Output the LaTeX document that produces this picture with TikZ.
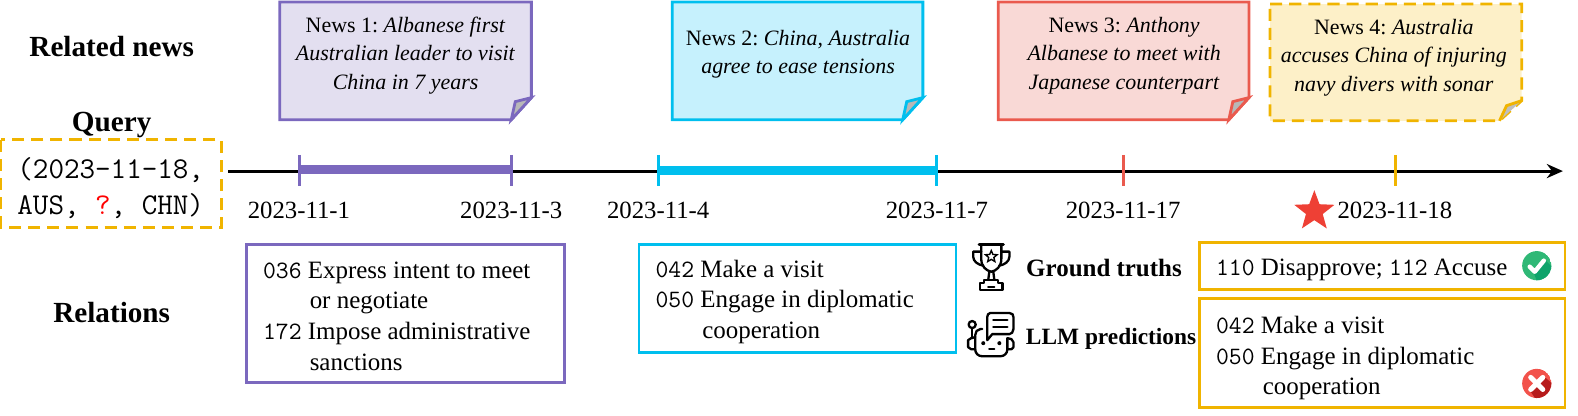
\documentclass[tikz,border=0pt]{standalone}
\usepackage{fontspec}
\setmainfont{Liberation Serif}
\usetikzlibrary{arrows.meta,shapes.geometric}
\definecolor{cpurple}{HTML}{7B68BE}
\definecolor{lpurple}{HTML}{E3DFF0}
\definecolor{ccyan}{HTML}{00BFEE}
\definecolor{lcyan}{HTML}{C6F1FD}
\definecolor{cred}{HTML}{EA5A4E}
\definecolor{lred}{HTML}{F9D9D6}
\definecolor{cgold}{HTML}{F0B400}
\definecolor{lgold}{HTML}{FDF0C8}
\definecolor{cstar}{HTML}{EE4035}
\definecolor{cgreen}{HTML}{2FB876}
\definecolor{dgreen}{HTML}{0FA36B}
\definecolor{cwrong}{HTML}{F2524B}
\definecolor{dwrong}{HTML}{B71C1C}
\newcommand{\relcode}[1]{{\ttfamily\fontsize{12.4}{15}\selectfont #1}}
\newcommand{\relgap}{\hspace*{23.2pt}}
\tikzset{
  title/.style={font=\fontsize{14.5}{17}\selectfont\bfseries, inner sep=0pt},
  side/.style={font=\fontsize{12.4}{15}\selectfont\bfseries, inner sep=0pt},
  news/.style={font=\fontsize{10.9}{14.2}\selectfont\frenchspacing, align=center, inner sep=0pt},
  date/.style={font=\fontsize{12.3}{15}\selectfont, inner sep=0pt},
  rel/.style={font=\fontsize{12.4}{15.2}\selectfont, align=left, anchor=west, inner sep=0pt},
  paper/.style={line width=1.4pt, line join=miter},
  fold/.style={line width=1.4pt, fill=black!28},
  tick/.style={line width=1.5pt},
  icon/.style={line width=1.15pt, line join=round, line cap=round},
}
\begin{document}
\begin{tikzpicture}[x=0.5pt, y=-0.5pt]
\useasboundingbox (0,0) rectangle (1568,413);
% left column
\node[title] (L1) at (111,46) {Related news};
\node[title] (L2) at (111,124) {Query};
\node[title] (L3) at (111,311) {Relations};
\draw[cgold, line width=1.4pt, dashed, dash pattern=on 6pt off 3.5pt] (1,139) rectangle (220,226);
\node[font=\ttfamily\fontsize{15}{17.5}\selectfont, align=center, inner sep=0pt] (Q) at (110,187)
  {(2023-11-18,\\AUS, \textcolor{red}{?}, CHN)};
% news papers
\draw[paper, cpurple, fill=lpurple] (278,2) -- (528,2) -- (528,97) -- (508,119) -- (278,119) -- cycle;
\draw[fold, draw=cpurple] (528,97) -- (512,101) -- (508,119) -- cycle;
\node[news] (N1) at (403,55) {News 1: \textit{Albanese first}\\\textit{Australian leader to visit}\\\textit{China in 7 years}};
\draw[paper, ccyan, fill=lcyan] (668,2) -- (917,2) -- (917,97) -- (897,119) -- (668,119) -- cycle;
\draw[fold, draw=ccyan] (917,97) -- (901,101) -- (897,119) -- cycle;
\node[news] (N2) at (793,54) {News 2: \textit{China, Australia}\\\textit{agree to ease tensions}};
\draw[paper, cred, fill=lred] (992,2) -- (1241,2) -- (1241,97) -- (1221,119) -- (992,119) -- cycle;
\draw[fold, draw=cred] (1241,97) -- (1225,101) -- (1221,119) -- cycle;
\node[news] (N3) at (1117,55) {News 3: \textit{Anthony}\\\textit{Albanese to meet with}\\\textit{Japanese counterpart}};
\fill[lgold] (1262,4) -- (1512,4) -- (1512,100) -- (1490,120) -- (1262,120) -- cycle;
\draw[paper, cgold, dashed, dash pattern=on 6pt off 3.5pt] (1262,4) -- (1512,4) -- (1512,100) -- (1490,120) -- (1262,120) -- cycle;
\fill[black!25] (1512,100) -- (1497,105) -- (1490,120) -- cycle;
\draw[line width=1.4pt, cgold] (1512,100) -- (1497,105) -- (1490,120);
\node[news] (N4) at (1385,57) {News 4: \textit{Australia}\\\textit{accuses China of injuring}\\\textit{navy divers with sonar}};
% timeline
\coordinate (S) at (227,170);
\coordinate (E) at (1553,170);
\draw[line width=1.5pt, -{Stealth[length=8pt,width=7pt]}] (S) -- (E);
\coordinate (T1) at (298,168);
\coordinate (T2) at (508,168);
\coordinate (T3) at (654,169);
\coordinate (T4) at (931,169);
\draw[cpurple, line width=4.5pt] (T1) -- (T2);
\draw[ccyan, line width=4.5pt] (T3) -- (T4);
\draw[tick, cpurple] (298,154) -- (298,185);
\draw[tick, cpurple] (508,154) -- (508,185);
\draw[tick, ccyan] (654,154) -- (654,185);
\draw[tick, ccyan] (931,154) -- (931,185);
\draw[tick, cred] (1116,154) -- (1116,185);
\draw[tick, cgold] (1387,154) -- (1387,185);
\node[date] (D1) at (297,209) {2023-11-1};
\node[date] (D2) at (508,209) {2023-11-3};
\node[date] (D3) at (654,209) {2023-11-4};
\node[date] (D4) at (931,209) {2023-11-7};
\node[date] (D5) at (1116,209) {2023-11-17};
\node[date] (D6) at (1386,209) {2023-11-18};
\node[star, star points=5, star point ratio=2.4, fill=cstar, inner sep=0pt, minimum size=21pt] (ST) at (1306,210) {};
% relations
\draw[cpurple, line width=1.4pt] (245,243) rectangle (561,380);
\node[rel] (R1) at (261,314) {\relcode{036} Express intent to meet\\\relgap or negotiate\\\relcode{172} Impose administrative\\\relgap sanctions};
\draw[ccyan, line width=1.4pt] (635,243) rectangle (950,350);
\node[rel] (R2) at (651,300) {\relcode{042} Make a visit\\\relcode{050} Engage in diplomatic\\\relgap cooperation};
\draw[cgold, line width=1.4pt] (1192,241) rectangle (1555,288);
\node[rel] (R3) at (1208,268) {\relcode{110} Disapprove; \relcode{112} Accuse};
\draw[cgold, line width=1.4pt] (1192,297) rectangle (1555,405);
\node[rel] (R4) at (1208,356) {\relcode{042} Make a visit\\\relcode{050} Engage in diplomatic\\\relgap cooperation};
\node[side] (G) at (1097,266) {Ground truths};
\node[side, font=\fontsize{11.6}{15}\selectfont\bfseries] (P) at (1104,337) {LLM predictions};
% trophy
\draw[icon, line width=1.5pt] (973,243) -- (997,243);
\draw[icon] (975,244) -- (975,257) .. controls (975,265) and (980,269) .. (985,270) .. controls (990,269) and (995,265) .. (995,257) -- (995,244);
\draw[icon] (975,250) -- (967,250) -- (967,255) .. controls (967,260) and (972,263) .. (977,264);
\draw[icon] (995,250) -- (1003,250) -- (1003,255) .. controls (1003,260) and (998,263) .. (993,264);
\draw[icon] (983,270) -- (982,278) (987,270) -- (988,278);
\draw[icon] (978,278) -- (992,278) -- (992,281) -- (996,281) -- (996,288) -- (974,288) -- (974,281) -- (978,281) -- cycle;
\draw[icon] (982,285) -- (988,285);
\node[star, star points=5, star point ratio=2.2, draw, line width=0.7pt, inner sep=0pt, minimum size=6pt] (TS) at (985,255) {};
% robot
\draw[icon] (976,327) -- (974,327) .. controls (971,327) and (969,330) .. (969,333) -- (969,347) .. controls (969,351) and (972,354) .. (976,354) -- (994,354) .. controls (998,354) and (1001,351) .. (1001,347) -- (1001,336);
\draw[icon] (969,335) -- (965,336) -- (962,338) -- (962,345) -- (965,347) -- (969,347);
\draw[icon] (1001,336) -- (1005,337) -- (1007,340) -- (1007,345) -- (1005,347) -- (1001,347);
\draw[icon] (966,326) -- (966,336);
\draw[icon] (966,322.5) circle (3.5);
\draw[icon] (984,311) -- (1003,311) .. controls (1006,311) and (1007,313) .. (1007,315) -- (1007,327) .. controls (1007,330) and (1005,332) .. (1003,332) -- (986,332) -- (981,338) -- (981,315) .. controls (981,313) and (982,311) .. (984,311) -- cycle;
\draw[icon] (987,318) -- (1001,318) (987,325) -- (1001,325);
\fill (977,341) circle (2);
\fill (993,341) circle (2);
\draw[icon] (983,347) -- (988,347);
% marks
\begin{scope}
\clip (1527,264) circle (14.5);
\fill[cgreen] (1527,264) circle (14.5);
\fill[dgreen] (1524,271) -- (1536,259) -- (1547,270) -- (1530,287) -- cycle;
\end{scope}
\draw[white, line width=2.2pt, line cap=round, line join=round] (1520,265) -- (1525,270) -- (1534,259);
\begin{scope}
\clip (1527,381) circle (14.5);
\fill[cwrong] (1527,381) circle (14.5);
\fill[dwrong] (1520,388) -- (1534,374) -- (1547,385) -- (1530,402) -- cycle;
\end{scope}
\draw[white, line width=2.5pt, line cap=round] (1521,375) -- (1533,387) (1533,375) -- (1521,387);
\end{tikzpicture}
\end{document}
